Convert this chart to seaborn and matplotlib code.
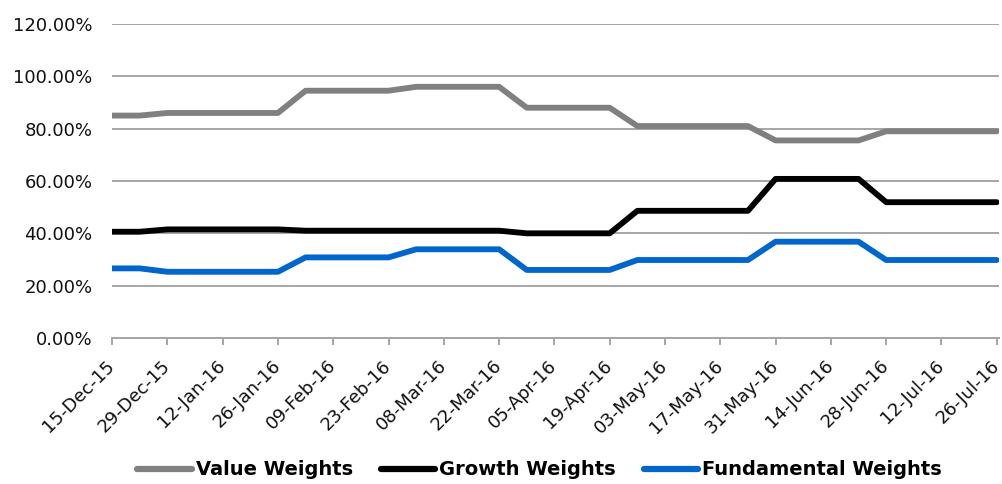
import numpy as np
import pandas as pd
import matplotlib
matplotlib.use("Agg")
import matplotlib.pyplot as plt
import seaborn as sns
from matplotlib.lines import Line2D

# ---- data (weekly, 15-Dec-15 .. 26-Jul-16) ----
dates = pd.date_range("2015-12-15", periods=33, freq="7D")
value_w = [85.0, 85.0, 86.0, 86.0, 86.0, 86.0, 86.0,
           94.5, 94.5, 94.5, 94.5,
           96.0, 96.0, 96.0, 96.0,
           88.0, 88.0, 88.0, 88.0,
           81.0, 81.0, 81.0, 81.0, 81.0,
           75.5, 75.5, 75.5, 75.5,
           79.0, 79.0, 79.0, 79.0, 79.0]
growth_w = [40.6, 40.6, 41.5, 41.5, 41.5, 41.5, 41.5,
            41.0, 41.0, 41.0, 41.0,
            41.0, 41.0, 41.0, 41.0,
            40.0, 40.0, 40.0, 40.0,
            48.6, 48.6, 48.6, 48.6, 48.6,
            60.8, 60.8, 60.8, 60.8,
            51.9, 51.9, 51.9, 51.9, 51.9]
fund_w = [26.6, 26.6, 25.3, 25.3, 25.3, 25.3, 25.3,
          30.8, 30.8, 30.8, 30.8,
          33.9, 33.9, 33.9, 33.9,
          26.0, 26.0, 26.0, 26.0,
          29.8, 29.8, 29.8, 29.8, 29.8,
          36.8, 36.8, 36.8, 36.8,
          29.8, 29.8, 29.8, 29.8, 29.8]
series_names = ["Value Weights", "Growth Weights", "Fundamental Weights"]
colors = ["#808080", "#000000", "#0066CC"]
tick_labels = ["15-Dec-15", "29-Dec-15", "12-Jan-16", "26-Jan-16", "09-Feb-16",
               "23-Feb-16", "08-Mar-16", "22-Mar-16", "05-Apr-16", "19-Apr-16",
               "03-May-16", "17-May-16", "31-May-16", "14-Jun-16", "28-Jun-16",
               "12-Jul-16", "26-Jul-16"]
y_ticks = [0, 20, 40, 60, 80, 100, 120]

df = pd.DataFrame({
    "idx": np.tile(np.arange(len(dates)), 3),
    "weight": value_w + growth_w + fund_w,
    "series": np.repeat(series_names, len(dates)),
})

sns.set_style("white")
plt.rcParams["font.family"] = ["DejaVu Sans"]

fig = plt.figure(figsize=(10.03, 4.84), dpi=100)
ax = fig.add_axes([0.1117, 0.3017, 0.8843, 0.6487])

sns.lineplot(data=df, x="idx", y="weight", hue="series", hue_order=series_names,
             palette=colors, linewidth=4.2, ax=ax, legend=False, zorder=3)
for ln in ax.lines:
    ln.set_solid_capstyle("round")
    ln.set_solid_joinstyle("round")

ax.set_xlim(0, len(dates) - 1 + 0.08)
ax.set_ylim(0, 120)
ax.set_yticks(y_ticks)
ax.set_yticklabels([f"{v:.2f}%" for v in y_ticks], fontsize=13, color="#111111")
ax.yaxis.grid(True, color="#a6a6a6", linewidth=1.4, zorder=0)
ax.xaxis.grid(False)

tick_pos = np.arange(0, len(dates), 2)
ax.set_xticks(tick_pos)
ax.set_xticklabels(tick_labels, rotation=45, ha="right", va="center",
                   rotation_mode="anchor", fontsize=13, color="#111111")
ax.tick_params(axis="x", which="major", direction="out", length=5, width=1.4,
               color="#a6a6a6", pad=13, bottom=True)
ax.tick_params(axis="y", length=0, pad=14)

for s in ["top", "right", "left"]:
    ax.spines[s].set_visible(False)
ax.spines["bottom"].set_color("#a6a6a6")
ax.spines["bottom"].set_linewidth(1.4)
ax.set_xlabel("")
ax.set_ylabel("")

handles = [Line2D([0], [0], color=c, linewidth=4.5, solid_capstyle="round")
           for c in colors]
leg = fig.legend(handles, series_names, loc="center", bbox_to_anchor=(0.538, 0.029),
                 ncol=3, frameon=False, handlelength=2.8, handletextpad=0.2,
                 columnspacing=1.45,
                 prop={"family": "DejaVu Sans", "weight": "bold", "size": 14})
for t in leg.get_texts():
    t.set_color("#000000")

fig.savefig("out.png", dpi=100)
